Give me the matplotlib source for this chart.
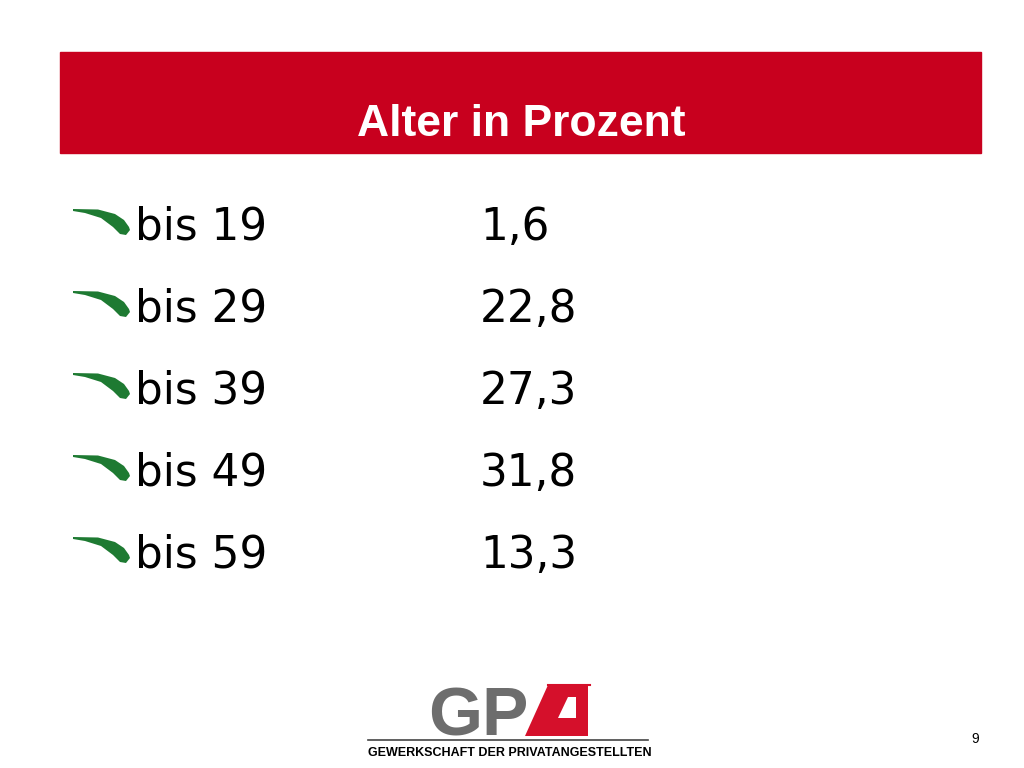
import matplotlib
matplotlib.use("Agg")
import matplotlib.pyplot as plt
from matplotlib.patches import Rectangle, Polygon

title = "Alter in Prozent"
categories = ["bis 19", "bis 29", "bis 39", "bis 49", "bis 59"]
values = [1.6, 22.8, 27.3, 31.8, 13.3]

fig = plt.figure(figsize=(10.24, 7.68), dpi=100)
ax = fig.add_axes([0, 0, 1, 1])
ax.set_xlim(0, 1024)
ax.set_ylim(768, 0)
ax.axis("off")

# title bar
ax.add_patch(Rectangle((60, 52), 921, 101, color="#C8001E"))
ax.text(521, 136, title, color="white", fontsize=32, fontweight="bold",
        family="Liberation Sans", ha="center", va="baseline")

# crescent outline, relative to its top-left corner
swoosh_top = [(0, 1), (25, 1.5), (42, 6), (51, 12), (56, 19), (57, 22)]
swoosh_bot = [(53, 27), (47, 26), (40, 19), (28, 10), (12, 5), (0, 3)]


def swoosh(x0, y0):
    pts = [(x0 + dx, y0 + dy) for dx, dy in swoosh_top + swoosh_bot]
    ax.add_patch(Polygon(pts, closed=True, color="#1E7A32", lw=0))


for i, (c, v) in enumerate(zip(categories, values)):
    y = 240 + i * 82
    swoosh(73, y - 32)
    ax.text(135, y, c, fontsize=31.5, family="DejaVu Sans", va="baseline")
    ax.text(480, y, f"{v:.1f}".replace(".", ","), fontsize=31.5,
            family="DejaVu Sans", va="baseline")

# logo
ax.text(428, 736, "GP", fontsize=50, fontweight="bold", color="#6D6D6D",
        family="Liberation Sans", va="baseline")
ax.add_patch(Polygon([[548, 685], [588, 685], [588, 736], [525, 736]],
                     closed=True, color="#D5102B", lw=0))
ax.plot([548, 590], [685, 685], color="#D5102B", lw=1.5)
ax.add_patch(Polygon([[568, 697], [576, 697], [576, 718], [558, 718]],
                     closed=True, color="white", lw=0))
ax.plot([368, 648], [740, 740], color="#444444", lw=1.2)
ax.text(368, 756, "GEWERKSCHAFT DER PRIVATANGESTELLTEN", fontsize=9,
        fontweight="bold", family="Liberation Sans", va="baseline")

ax.text(975, 743, "9", fontsize=10, family="Liberation Sans", ha="center")

fig.savefig("out.png", dpi=100)
